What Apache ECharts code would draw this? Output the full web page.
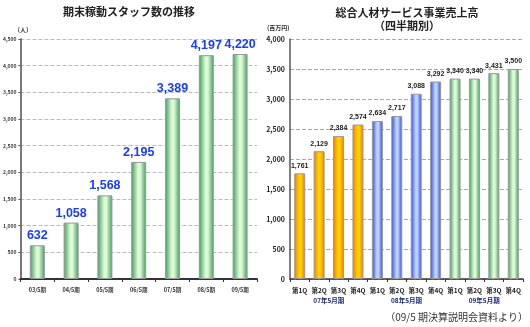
<!DOCTYPE html>
<html><head><meta charset="utf-8">
<script src="https://cdn.jsdelivr.net/npm/echarts@6/dist/echarts.min.js"></script>
<style>html,body{margin:0;padding:0;background:#fff}#c{width:530px;height:327px}</style>
</head><body><div id="c"></div>
<script>
const staffCategories = ['03/5期','04/5期','05/5期','06/5期','07/5期','08/5期','09/5期'];
const staffValues = [632, 1058, 1568, 2195, 3389, 4197, 4220];
const staffTicks = [0,500,1000,1500,2000,2500,3000,3500,4000,4500];

const quarterLabels = ['第1Q','第2Q','第3Q','第4Q','第1Q','第2Q','第3Q','第4Q','第1Q','第2Q','第3Q','第4Q'];
const periodLabels = ['07年5月期','08年5月期','09年5月期'];
const salesValues = [1761, 2129, 2384, 2574, 2634, 2717, 3088, 3292, 3340, 3340, 3431, 3500];
const salesTicks = [0,500,1000,1500,2000,2500,3000,3500,4000];

const FONT = '"Noto Sans CJK JP","Liberation Sans",sans-serif';
function grad(edge, mid){
  return new echarts.graphic.LinearGradient(0,0,1,0,[
    {offset:0,color:edge},{offset:0.45,color:mid},{offset:0.6,color:mid},{offset:1,color:edge}]);
}
const green = grad('#3f9a5c','#dcfad6');
const groupGrads = [grad('#ff7000','#ffd400'), grad('#2846e6','#bcd2ff'), grad('#3f9a5c','#dcfad6')];
const fmt = v => v.toLocaleString('en-US');

const chart = echarts.init(document.getElementById('c'));
chart.setOption({
  animation:false,
  textStyle:{fontFamily:FONT},
  title:[
    {text:'期末稼動スタッフ数の推移', left:124, top:1, textAlign:'center',
     textStyle:{fontSize:11,fontWeight:'bold',color:'#222',fontFamily:FONT}},
    {text:'総合人材サービス事業売上高\n（四半期別）', left:402, top:1, textAlign:'center',
     textStyle:{fontSize:11,fontWeight:'bold',color:'#222',lineHeight:13,fontFamily:FONT}}
  ],
  graphic:[
    {type:'text', left:14, top:27, style:{text:'（人）', fontSize:6, fontWeight:'bold', fill:'#333', fontFamily:FONT}},
    {type:'text', left:267, top:25, style:{text:'(百万円)', fontSize:6, fontWeight:'bold', fill:'#333', fontFamily:FONT}},
    {type:'text', right:2, top:312, style:{text:'（09/5 期決算説明会資料より）', fontSize:10, fill:'#333', fontFamily:FONT}}
  ],
  grid:[
    {left:20, right:273, top:39, bottom:48},
    {left:290, right:7, top:39, bottom:48}
  ],
  xAxis:[
    {gridIndex:0, type:'category', data:staffCategories,
     axisLine:{lineStyle:{color:'#333',width:2}},
     axisTick:{show:true, length:3, lineStyle:{color:'#333'}},
     axisLabel:{fontSize:5.5, fontWeight:'bold', color:'#333', margin:8}},
    {gridIndex:1, type:'category', data:quarterLabels,
     axisLine:{lineStyle:{color:'#333',width:1.5}},
     axisTick:{show:true, length:3, lineStyle:{color:'#333'}},
     axisLabel:{fontSize:6.5, fontWeight:'bold', color:'#222', margin:8, interval:0}},
    {gridIndex:1, type:'category', data:periodLabels, position:'bottom', offset:10,
     axisLine:{show:false}, axisTick:{show:false},
     axisLabel:{fontSize:6.5, fontWeight:'bold', color:'#1c2a78', margin:8, interval:0}}
  ],
  yAxis:[
    {gridIndex:0, type:'value', min:0, max:4500, interval:500,
     axisLine:{show:true, lineStyle:{color:'#777',width:2}},
     axisTick:{show:true, length:2, lineStyle:{color:'#555'}},
     axisLabel:{fontSize:5, fontWeight:'bold', color:'#333', margin:4, formatter:v=>fmt(v)},
     splitLine:{lineStyle:{color:'#bbb', type:'dashed'}}},
    {gridIndex:1, type:'value', min:0, max:4000, interval:500,
     axisLine:{show:true, lineStyle:{color:'#555',width:1.5}},
     axisTick:{show:false},
     axisLabel:{fontSize:7, fontWeight:'bold', color:'#222', margin:5, formatter:v=>fmt(v)},
     splitLine:{lineStyle:{color:'#aaa', type:'dashed'}}}
  ],
  series:[
    {type:'bar', xAxisIndex:0, yAxisIndex:0, data:staffValues, barWidth:15,
     itemStyle:{color:green, borderColor:'#999', borderWidth:1},
     label:{show:true, position:'top', distance:3, formatter:p=>fmt(p.value),
       fontSize:12.5, color:'#1a3cff', fontWeight:'bold', fontFamily:'"Liberation Sans",Arial,sans-serif'}},
    {type:'bar', xAxisIndex:1, yAxisIndex:1, barWidth:11,
     data:salesValues.map((v,i)=>({value:v, itemStyle:{color:groupGrads[Math.floor(i/4)]}})),
     itemStyle:{borderColor:'#999', borderWidth:1},
     label:{show:true, position:'top', distance:4, formatter:p=>fmt(p.value),
       fontSize:7, fontWeight:'bold', color:'#222', fontFamily:'"Liberation Sans",Arial,sans-serif'}}
  ]
});
</script></body></html>
